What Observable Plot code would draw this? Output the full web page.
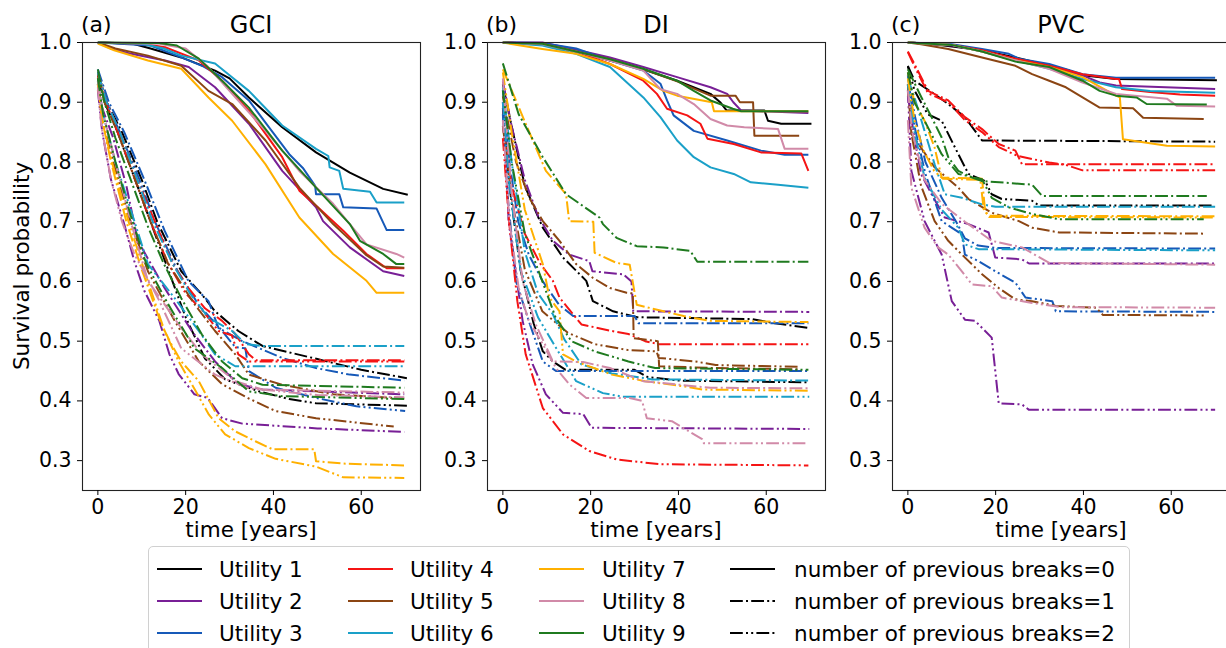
<!DOCTYPE html>
<html><head><meta charset="utf-8">
<script src="https://cdn.jsdelivr.net/npm/d3@7"></script>
<script src="https://cdn.jsdelivr.net/npm/@observablehq/plot@0.6"></script>
<style>
body{margin:0;background:#fff;font-family:"DejaVu Sans",sans-serif;}
#wrap{position:relative;width:1226px;height:648px;overflow:hidden;background:#fff;}
.panel{position:absolute;top:0;}
.t{position:absolute;white-space:nowrap;color:#000;font-family:"DejaVu Sans",sans-serif;line-height:1;}
#legend{position:absolute;left:148px;top:546px;width:982px;height:120px;border:1px solid #d0d0d0;border-radius:5px;box-sizing:border-box;background:#fff;}
</style></head><body><div id="wrap"></div>
<script>
// ---------- categories / labels ----------
const utilities = ["Utility 1","Utility 2","Utility 3","Utility 4","Utility 5","Utility 6","Utility 7","Utility 8","Utility 9"];
const utilityColors = ["#000000","#781f96","#1659b8","#f51414","#8b4513","#1aa0c8","#ffb000","#d18aa8","#1f7a1f"];
const breakLabels = ["number of previous breaks=0","number of previous breaks=1","number of previous breaks=2"];
const panelTitles = ["GCI","DI","PVC"];
const panelTags = ["(a)","(b)","(c)"];
const xTicks = [0,20,40,60];
const yTicks = [0.3,0.4,0.5,0.6,0.7,0.8,0.9,1.0];
const xLabel = "time [years]";
const yLabel = "Survival probability";

// ---------- data: [time, survival] per utility (Utility 1..9) ----------
// GCI, previous breaks = 0
const gci0 = [
 [[0,1],[8,0.998],[12,0.99],[19,0.975],[26.7,0.953],[30,0.94],[34.4,0.908],[42,0.858],[49.7,0.816],[57.4,0.782],[65,0.755],[70.6,0.745]],
 [[0,1],[3,0.99],[7.6,0.981],[15.3,0.97],[20.7,0.959],[26.7,0.925],[34.4,0.864],[42,0.785],[49.7,0.724],[51.3,0.701],[57.4,0.657],[65,0.617],[69.8,0.609]],
 [[0,1],[12,0.995],[19,0.975],[24,0.96],[28.3,0.942],[34.4,0.903],[39,0.858],[43.6,0.813],[46.7,0.79],[49.5,0.76],[49.7,0.746],[55,0.746],[55.9,0.724],[63.5,0.722],[65.8,0.686],[69.8,0.686]],
 [[0,1],[10,0.998],[15.3,0.992],[23,0.97],[28.3,0.936],[34.4,0.886],[42,0.808],[45.9,0.752],[50,0.725],[55.9,0.685],[61.2,0.646],[65.8,0.622],[69.8,0.622]],
 [[0,1],[4,0.99],[11.4,0.978],[19,0.961],[25.2,0.919],[30.6,0.897],[38.2,0.836],[45.9,0.757],[53.6,0.696],[57.4,0.67],[61,0.645],[65,0.625],[69.8,0.623]],
 [[0,1],[10,0.998],[15,0.99],[19,0.978],[26.7,0.965],[30,0.945],[34.4,0.919],[42,0.861],[49.7,0.822],[52.5,0.81],[52.8,0.791],[55,0.785],[55.9,0.755],[62,0.75],[63.5,0.732],[69.8,0.732]],
 [[0,0.998],[3.7,0.987],[11.4,0.97],[19,0.956],[25.2,0.908],[30.6,0.869],[38.2,0.796],[45.9,0.707],[53.6,0.646],[61.2,0.601],[63.5,0.581],[69.8,0.581]],
 [[0,1],[14,0.998],[20,0.99],[25,0.96],[30.6,0.914],[38.2,0.852],[45.9,0.785],[53.6,0.73],[61.2,0.662],[68,0.646],[69.8,0.64]],
 [[0,1],[14,0.999],[18,0.995],[23,0.973],[29,0.931],[34.4,0.891],[42,0.819],[49.7,0.757],[57.4,0.696],[59.7,0.668],[65,0.646],[68,0.629],[69.8,0.629]]
];
// GCI, previous breaks = 1
const gci1 = [
 [[0,0.95],[2,0.9],[5.5,0.85],[10,0.77],[13.5,0.7],[19,0.617],[23.7,0.578],[26.7,0.55],[32,0.517],[37.5,0.492],[50,0.47],[60,0.452],[70.4,0.438]],
 [[0,0.93],[1,0.89],[3.5,0.84],[6.5,0.76],[9.1,0.668],[15.2,0.589],[21.4,0.517],[26.7,0.466],[32,0.428],[37.5,0.419],[69.8,0.411]],
 [[0,0.955],[2.5,0.9],[6,0.85],[10.6,0.77],[15.2,0.685],[20.6,0.601],[25.2,0.567],[27.5,0.522],[32.9,0.5],[42,0.472],[49.7,0.455],[57.4,0.444],[69.8,0.434]],
 [[0,0.95],[2,0.9],[5,0.85],[9,0.77],[13,0.7],[17,0.63],[20.6,0.589],[24.4,0.555],[28.3,0.534],[31.3,0.512],[34.4,0.478],[36,0.468],[69.8,0.468]],
 [[0,0.945],[1.5,0.9],[4.5,0.85],[8.5,0.77],[12,0.7],[16,0.63],[22,0.562],[26.7,0.517],[31.3,0.478],[34.4,0.444],[42,0.427],[53.6,0.411],[69.8,0.404]],
 [[0,0.95],[2,0.9],[5,0.85],[9,0.77],[12.5,0.7],[17,0.63],[21,0.58],[25.2,0.539],[30.6,0.517],[33.7,0.495],[37.5,0.492],[69.8,0.492]],
 [[0,0.93],[1,0.87],[3,0.8],[6.5,0.7],[10,0.62],[14.5,0.528],[16.8,0.494],[19,0.466],[23,0.433],[27.5,0.371],[31.3,0.349],[36,0.332],[39.8,0.319],[49.3,0.319],[49.7,0.299],[56,0.295],[69.8,0.292]],
 [[0,0.935],[1.2,0.88],[4,0.8],[7.5,0.7],[11.4,0.601],[19,0.522],[23.7,0.478],[31.3,0.433],[37.5,0.419],[69.8,0.414]],
 [[0,0.955],[1.5,0.9],[4,0.84],[8,0.76],[11.5,0.69],[15,0.63],[19,0.572],[23.7,0.511],[28.3,0.466],[32.9,0.438],[37.5,0.427],[69.8,0.422]]
];
// GCI, previous breaks = 2
const gci2 = [
 [[0,0.94],[1.5,0.9],[4.5,0.85],[8.5,0.77],[12,0.7],[16,0.62],[20,0.54],[24.4,0.471],[29,0.436],[36.7,0.416],[43.6,0.403],[49.7,0.396],[70.4,0.392]],
 [[0,0.92],[1,0.85],[3,0.77],[6,0.696],[8.3,0.634],[10.6,0.584],[14,0.534],[16.3,0.478],[18.4,0.445],[22,0.411],[25,0.405],[28.3,0.371],[32.9,0.362],[50,0.354],[69.8,0.348]],
 [[0,0.95],[2,0.9],[5,0.85],[9.5,0.77],[13,0.7],[18,0.62],[23,0.56],[28,0.52],[31.3,0.49],[33.6,0.488],[34.4,0.45],[40.5,0.422],[49.7,0.405],[58.9,0.391],[70,0.383]],
 [[0,0.945],[1.8,0.9],[4.5,0.85],[8.5,0.77],[12,0.7],[16,0.63],[20,0.58],[24,0.55],[27.5,0.517],[30.5,0.51],[32,0.478],[34.4,0.466],[69.8,0.466]],
 [[0,0.93],[1,0.87],[3.5,0.8],[7,0.71],[11.4,0.617],[17.5,0.534],[23,0.466],[28.3,0.428],[34.4,0.404],[40.5,0.383],[49.7,0.371],[67.4,0.357]],
 [[0,0.935],[1.2,0.88],[4,0.8],[7.5,0.72],[11.4,0.629],[17.5,0.572],[23,0.517],[26.7,0.478],[31.3,0.458],[69.8,0.458]],
 [[0,0.93],[1,0.87],[3.2,0.8],[7,0.7],[10.5,0.62],[15.2,0.517],[18.4,0.466],[21.4,0.428],[25.3,0.377],[29,0.344],[34.4,0.321],[40.5,0.303],[49.7,0.29],[55.9,0.272],[69.8,0.271]],
 [[0,0.925],[0.8,0.86],[3,0.77],[5.5,0.7],[8.3,0.646],[13.7,0.572],[19,0.488],[26.7,0.444],[34.4,0.421],[50,0.41],[69.8,0.406]],
 [[0,0.94],[1.2,0.88],[4,0.8],[7.5,0.71],[11,0.63],[16,0.562],[22,0.488],[28.3,0.455],[34.4,0.416],[42,0.408],[69.8,0.403]]
];
// DI, previous breaks = 0
const di0 = [
 [[0,1],[9,0.998],[16.7,0.985],[24.4,0.97],[32,0.955],[39.7,0.936],[47.3,0.914],[49.5,0.9],[51,0.886],[59.6,0.886],[60.4,0.869],[63.4,0.864],[70.3,0.864]],
 [[0,1],[9,1],[16.7,0.988],[24.4,0.975],[32,0.959],[39.7,0.942],[47.3,0.925],[51.1,0.914],[52.5,0.9],[54.3,0.886],[69.6,0.882]],
 [[0,1],[9,0.999],[16.7,0.99],[24.4,0.97],[32,0.953],[35.9,0.931],[37.4,0.903],[38.9,0.878],[43.5,0.852],[51.1,0.836],[58.8,0.819],[64.2,0.812],[69.6,0.812]],
 [[0,1],[9,0.998],[16.7,0.985],[24.4,0.964],[32,0.936],[35.1,0.914],[37.4,0.889],[42,0.878],[45,0.864],[46.6,0.839],[52.6,0.83],[58.8,0.816],[68,0.814],[69.6,0.785]],
 [[0,1],[9,0.997],[16.7,0.985],[24.4,0.972],[32,0.955],[39.7,0.935],[47.3,0.911],[53,0.911],[54,0.9],[57,0.9],[57.3,0.844],[67.5,0.844]],
 [[0,1],[9,0.995],[16.7,0.981],[24.4,0.959],[32,0.908],[35.9,0.875],[39.7,0.836],[43.5,0.808],[47.3,0.791],[52.6,0.78],[56.5,0.766],[62.7,0.762],[69.6,0.757]],
 [[0,1],[4,0.995],[9,0.989],[16.7,0.981],[24.4,0.964],[32,0.939],[36.6,0.919],[39.7,0.911],[47.6,0.9],[48.1,0.885],[69.6,0.885]],
 [[0,1],[9,0.997],[16.7,0.985],[24.4,0.97],[32,0.953],[35.9,0.922],[39.7,0.914],[43.5,0.897],[47.3,0.872],[51.1,0.861],[55,0.858],[62.7,0.855],[64.2,0.822],[69.6,0.822]],
 [[0,1],[9,0.998],[16.7,0.985],[24.4,0.972],[32,0.956],[39.7,0.936],[43.5,0.919],[47.3,0.903],[52.4,0.889],[54.3,0.885],[69.6,0.885]]
];
// DI, previous breaks = 1
const di1 = [
 [[0,0.93],[2,0.86],[5,0.76],[9.1,0.69],[13.7,0.64],[19,0.601],[20.5,0.567],[25.1,0.55],[30.6,0.54],[56.7,0.537],[62,0.53],[69.8,0.522]],
 [[0,0.935],[2,0.86],[5,0.77],[8,0.71],[11.4,0.668],[15.1,0.645],[19.7,0.634],[20.4,0.617],[27.4,0.612],[29.3,0.6],[29.7,0.55],[69.8,0.549]],
 [[0,0.92],[1.5,0.8],[3.5,0.7],[5.9,0.645],[9.1,0.6],[12.8,0.561],[16,0.542],[30,0.542],[30.9,0.53],[69.6,0.53]],
 [[0,0.86],[2,0.76],[5,0.68],[8.5,0.63],[11.4,0.601],[12.9,0.573],[17.9,0.528],[24.8,0.517],[28.6,0.512],[32.4,0.5],[35.5,0.495],[69.6,0.495]],
 [[0,0.91],[3,0.8],[6,0.74],[9.1,0.701],[12.9,0.668],[16.7,0.629],[20.5,0.606],[24.4,0.589],[28.2,0.581],[29.6,0.58],[29.8,0.505],[35.3,0.5],[35.6,0.458],[48.5,0.455],[67.5,0.453]],
 [[0,0.925],[2,0.8],[5,0.65],[8,0.58],[11.4,0.545],[14,0.503],[17.9,0.461],[24.8,0.446],[32.4,0.438],[34,0.436],[69.8,0.434]],
 [[0,0.955],[5.2,0.864],[9.8,0.785],[14.4,0.746],[15.1,0.701],[20.6,0.7],[20.9,0.648],[25.9,0.631],[28.9,0.628],[30.5,0.561],[36.6,0.55],[41.2,0.542],[47.3,0.534],[69.6,0.532]],
 [[0,0.94],[2,0.75],[4.5,0.6],[7.5,0.528],[11.4,0.466],[18.3,0.465],[24.4,0.455],[32,0.433],[47.3,0.422],[69.6,0.421]],
 [[0,0.965],[3.6,0.88],[9.1,0.808],[14.4,0.746],[22,0.707],[22.8,0.696],[25.9,0.673],[30.5,0.659],[36.6,0.657],[42.7,0.651],[44.3,0.633],[69.6,0.633]]
];
// DI, previous breaks = 2
const di2 = [
 [[0,0.89],[1.5,0.76],[4,0.62],[7,0.53],[9.1,0.483],[11.4,0.466],[14.3,0.452],[30,0.452],[33,0.44],[40,0.434],[69.8,0.431]],
 [[0,0.9],[0.8,0.8],[1.3,0.701],[4.5,0.534],[6.8,0.461],[9.8,0.411],[13.7,0.38],[18.3,0.378],[20.2,0.355],[69.8,0.353]],
 [[0,0.88],[1,0.75],[3,0.6],[5.9,0.534],[9.1,0.466],[12.1,0.45],[69.6,0.45]],
 [[0,0.84],[1.4,0.701],[3.3,0.567],[5.2,0.478],[9.1,0.388],[13.7,0.344],[19.7,0.316],[25.9,0.302],[35.8,0.294],[69.6,0.292]],
 [[0,0.86],[2,0.74],[5,0.62],[9,0.55],[14.8,0.514],[20.9,0.495],[28.6,0.485],[35,0.483],[35.5,0.472],[43.9,0.466],[48.5,0.46],[67.5,0.457]],
 [[0,0.9],[1.5,0.76],[4,0.62],[8,0.54],[12.1,0.489],[16.7,0.433],[22.8,0.413],[27.3,0.407],[69.8,0.407]],
 [[0,0.95],[2,0.85],[5,0.72],[9.1,0.629],[10.6,0.573],[12.9,0.55],[13.7,0.478],[16.7,0.466],[24.8,0.444],[32.4,0.433],[41.6,0.424],[45.4,0.419],[69.6,0.417]],
 [[0,0.87],[1.5,0.7],[3.6,0.589],[5.9,0.534],[9.1,0.495],[12.1,0.455],[15.1,0.428],[19,0.405],[28.9,0.405],[31.7,0.4],[32.8,0.371],[38.5,0.366],[45.4,0.336],[45.8,0.329],[69.6,0.329]],
 [[0,0.92],[2,0.8],[5,0.68],[9,0.6],[12,0.54],[15.6,0.5],[20.9,0.483],[28.6,0.466],[34.7,0.455],[69.6,0.452]]
];
// PVC, previous breaks = 0
const pvc0 = [
 [[0,1],[5,0.998],[16.9,0.987],[24.5,0.975],[32.2,0.961],[36.8,0.953],[39.8,0.945],[47.4,0.939],[70.4,0.937]],
 [[0,1],[10,0.995],[16.9,0.986],[24.5,0.972],[32.2,0.96],[39.8,0.945],[43.7,0.933],[47.4,0.928],[70,0.922]],
 [[0,1],[10,0.997],[16.9,0.989],[23,0.981],[25.3,0.973],[32.2,0.964],[39.8,0.947],[47.4,0.941],[70,0.941]],
 [[0,1],[10,0.996],[16.9,0.987],[24.5,0.973],[32.2,0.961],[39.8,0.947],[47.4,0.939],[48.1,0.939],[48.8,0.922],[55.2,0.917],[62,0.913],[70,0.911]],
 [[0,1],[3,0.997],[9.2,0.989],[16.9,0.975],[24.5,0.961],[28.3,0.947],[32.2,0.936],[36,0.925],[39.8,0.908],[43.7,0.891],[51.3,0.89],[53.6,0.874],[67.4,0.872]],
 [[0,1],[10,0.996],[16.9,0.985],[24.5,0.97],[32.2,0.956],[39.8,0.939],[47.4,0.925],[55.2,0.919],[70,0.916]],
 [[0,1],[10,0.996],[16.9,0.985],[24.5,0.97],[32.2,0.959],[39.8,0.942],[47.4,0.911],[48.3,0.908],[49,0.838],[59,0.827],[70,0.826]],
 [[0,1],[10,0.996],[16.9,0.985],[24.5,0.97],[32.2,0.956],[39.8,0.933],[47.4,0.914],[59,0.906],[61.3,0.894],[70,0.893]],
 [[0,1],[10,0.996],[16.9,0.985],[24.5,0.968],[32.2,0.959],[39.8,0.936],[43.7,0.919],[47.4,0.911],[52.1,0.908],[54.4,0.897],[68.1,0.896]]
];
// PVC, previous breaks = 1
const pvc1 = [
 [[0,0.961],[1.5,0.936],[5.4,0.917],[9.2,0.897],[13,0.875],[15.3,0.852],[16.9,0.836],[70,0.834]],
 [[0,0.91],[1.5,0.84],[3,0.78],[5.4,0.746],[8.4,0.707],[13.8,0.696],[18.4,0.682],[19.9,0.64],[26,0.637],[27.6,0.63],[70,0.63]],
 [[0,0.95],[1.5,0.88],[4,0.8],[7.7,0.74],[11,0.7],[13,0.672],[16,0.66],[20,0.656],[70,0.655]],
 [[0,0.985],[1.5,0.964],[4.6,0.919],[9.2,0.903],[13,0.875],[16.9,0.855],[20.7,0.83],[24.5,0.819],[26,0.796],[70,0.796]],
 [[0,0.93],[0.8,0.847],[6.1,0.791],[11.5,0.757],[13.8,0.738],[19.1,0.715],[25.3,0.701],[28.3,0.69],[34.5,0.682],[67.4,0.68]],
 [[0,0.94],[1.5,0.908],[3.8,0.852],[6.1,0.796],[8.4,0.746],[12.3,0.74],[16.9,0.729],[20,0.725],[70,0.725]],
 [[0,0.95],[1.5,0.9],[3.8,0.869],[6.1,0.824],[7.7,0.774],[16.9,0.772],[17.6,0.718],[18.4,0.71],[70,0.709]],
 [[0,0.92],[1,0.85],[3.8,0.77],[7.7,0.73],[13,0.7],[19.1,0.668],[26,0.657],[32.2,0.631],[70,0.628]],
 [[0,0.955],[3.1,0.908],[5.4,0.875],[7.7,0.841],[9.2,0.808],[11.5,0.785],[14.6,0.774],[16.9,0.768],[28.3,0.762],[30.6,0.743],[68.1,0.743]]
];
// PVC, previous breaks = 2
const pvc2 = [
 [[0,0.96],[1.5,0.92],[4.5,0.88],[7.7,0.869],[11.5,0.813],[13.8,0.78],[17.6,0.768],[19.1,0.746],[21.4,0.738],[28.3,0.735],[29.9,0.727],[69.7,0.727]],
 [[0,0.92],[0.8,0.785],[3.8,0.701],[7.7,0.645],[10,0.567],[13,0.536],[15.3,0.534],[19.1,0.506],[20.7,0.396],[26,0.394],[27.6,0.385],[70,0.385]],
 [[0,0.945],[1.5,0.86],[4,0.78],[7.7,0.701],[12.3,0.679],[13,0.645],[16.1,0.634],[19.9,0.617],[24.5,0.598],[26.8,0.573],[32.9,0.567],[33.7,0.55],[70,0.549]],
 [[0,0.984],[1.5,0.96],[4.6,0.915],[9.2,0.9],[13,0.87],[16.9,0.85],[20.7,0.825],[25,0.81],[32.2,0.799],[36,0.795],[39.8,0.786],[70,0.786]],
 [[0,0.93],[1,0.84],[3,0.76],[6.1,0.701],[9.2,0.668],[12.3,0.645],[16.9,0.612],[20.7,0.589],[24.5,0.57],[28.3,0.567],[33.7,0.559],[42.9,0.556],[44.4,0.544],[67.4,0.543]],
 [[0,0.93],[1.5,0.85],[3.8,0.774],[7.7,0.72],[11.5,0.69],[13,0.662],[16.1,0.654],[70,0.652]],
 [[0,0.94],[1.5,0.87],[3.5,0.82],[6,0.785],[8,0.772],[16.5,0.77],[17.3,0.72],[18.5,0.708],[70,0.707]],
 [[0,0.87],[0.8,0.757],[3.8,0.69],[6.9,0.657],[9.2,0.645],[12.3,0.617],[14.6,0.595],[19.1,0.592],[21.4,0.573],[28.3,0.564],[35,0.557],[70,0.556]],
 [[0,0.95],[1.5,0.9],[3.8,0.869],[7.7,0.813],[11.5,0.78],[16.9,0.771],[19.1,0.74],[23,0.724],[28.3,0.713],[34.5,0.704],[67.4,0.704]]
];

const panelData = [[gci0,gci1,gci2],[di0,di1,di2],[pvc0,pvc1,pvc2]];

// ---------- styles ----------
const dashPatterns = [null, "12.8,3.2,2,3.2", "12.8,3.2,2,3.2,2,3.2"];
const FRAME_W = 338, ML = 82, MR = 10, MT = 42, MB = 55, H = 545;
const panelLefts = [0, 405, 810];

const wrap = document.getElementById("wrap");

function addText(txt, css) {
  const d = document.createElement("div");
  d.className = "t";
  d.textContent = txt;
  Object.assign(d.style, css);
  wrap.appendChild(d);
  return d;
}

panelData.forEach((byBreak, p) => {
  const marks = [];
  utilities.forEach((u, i) => {
    byBreak.forEach((series, b) => {
      const rows = series[i].map(([t, s]) => ({t, s}));
      const opts = {x: "t", y: "s", stroke: utilityColors[i], strokeWidth: 2,
        strokeLinecap: "butt", strokeLinejoin: "round"};
      if (dashPatterns[b]) opts.strokeDasharray = dashPatterns[b];
      marks.push(Plot.line(rows, opts));
    });
  });
  marks.push(Plot.frame({stroke: "#222", strokeWidth: 1.1}));
  marks.push(Plot.axisX({ticks: xTicks, tickSize: 5, tickPadding: 4, label: null, tickFormat: d => String(d)}));
  marks.push(Plot.axisY({ticks: yTicks, tickSize: 5, tickPadding: 6, label: null, tickFormat: d => d.toFixed(1)}));
  const svg = Plot.plot({
    width: ML + FRAME_W + MR, height: H,
    marginLeft: ML, marginRight: MR, marginTop: MT, marginBottom: MB,
    x: {domain: [-3.5, 73.5]},
    y: {domain: [0.25, 1.0]},
    style: {fontFamily: "DejaVu Sans, sans-serif", fontSize: "20.5px", color: "#000", background: "transparent", overflow: "visible"},
    marks
  });
  svg.classList.add("panel");
  svg.style.left = panelLefts[p] + "px";
  wrap.appendChild(svg);

  const frameLeft = panelLefts[p] + ML;
  const cx = frameLeft + FRAME_W / 2;
  addText(panelTitles[p], {fontSize: "24px", top: "13px", left: cx + "px", transform: "translateX(-50%)"});
  addText(panelTags[p], {fontSize: "22px", top: "14px", left: (frameLeft - 1) + "px"});
  addText(xLabel, {fontSize: "21.5px", top: "519px", left: cx + "px", transform: "translateX(-50%)"});
});

// y label (only first panel)
addText(yLabel, {fontSize: "21.5px", top: "266px", left: "22px", transform: "translate(-50%,-50%) rotate(-90deg)"});

// ---------- legend ----------
const legend = document.createElement("div");
legend.id = "legend";
wrap.appendChild(legend);
const rowY = [569, 601, 633];
const lineX = [157, 348, 539, 730];
const textX = [219, 410, 602, 794];
const legendItems = [];
utilities.forEach((u, i) => legendItems.push({label: u, color: utilityColors[i], dash: null, col: Math.floor(i / 3), row: i % 3}));
breakLabels.forEach((l, b) => legendItems.push({label: l, color: "#000", dash: dashPatterns[b], col: 3, row: b}));
const NS = "http://www.w3.org/2000/svg";
legendItems.forEach(it => {
  const s = document.createElementNS(NS, "svg");
  s.setAttribute("width", 45); s.setAttribute("height", 6);
  s.style.position = "absolute";
  s.style.left = lineX[it.col] + "px";
  s.style.top = (rowY[it.row] - 3) + "px";
  const ln = document.createElementNS(NS, "line");
  ln.setAttribute("x1", 0); ln.setAttribute("x2", 45); ln.setAttribute("y1", 3); ln.setAttribute("y2", 3);
  ln.setAttribute("stroke", it.color); ln.setAttribute("stroke-width", 2);
  if (it.dash) ln.setAttribute("stroke-dasharray", it.dash);
  s.appendChild(ln);
  wrap.appendChild(s);
  addText(it.label, {fontSize: "21.5px", top: (rowY[it.row] - 10.5) + "px", left: textX[it.col] + "px"});
});
</script></body></html>
